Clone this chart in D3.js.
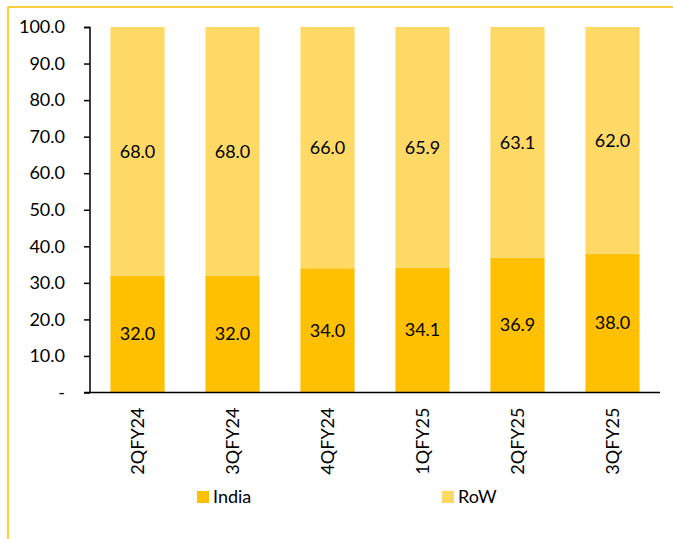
<!DOCTYPE html>
<html><head><meta charset="utf-8">
<script src="https://cdn.jsdelivr.net/npm/d3@7/dist/d3.min.js"></script>
<style>body{margin:0;background:#fff;} svg{display:block;font-family:Lato, "Open Sans", sans-serif;}</style>
</head><body>
<svg id="c" width="673" height="539"></svg>
<script>
const categories = ["2QFY24","3QFY24","4QFY24","1QFY25","2QFY25","3QFY25"];
const india = [32.0,32.0,34.0,34.1,36.9,38.0];
const row = [68.0,68.0,66.0,65.9,63.1,62.0];
const yTicks = [0,10,20,30,40,50,60,70,80,90,100];
const seriesNames = ["India","RoW"];
const colors = ["#FFC000","#FFD966"];

const svg = d3.select("#c");
// outer border
svg.append("rect").attr("x",8).attr("y",7).attr("width",700).attr("height",600)
  .attr("fill","none").attr("stroke","#FFC000").attr("stroke-width",1.5);

const x = d3.scaleBand().domain(categories).range([90,660]).paddingInner(0.43).paddingOuter(0.215);
const y = d3.scaleLinear().domain([0,100]).range([392.5,27]);

const data = categories.map((c,i)=>({cat:c, India:india[i], RoW:row[i]}));
const stack = d3.stack().keys(seriesNames)(data);

stack.forEach((s,si)=>{
  const g = svg.append("g");
  g.selectAll("rect").data(s).enter().append("rect")
    .attr("x",d=>x(d.data.cat)).attr("width",x.bandwidth())
    .attr("y",d=>y(d[1])).attr("height",d=>y(d[0])-y(d[1]))
    .attr("fill",colors[si]);
  g.selectAll("text").data(s).enter().append("text")
    .attr("x",d=>x(d.data.cat)+x.bandwidth()/2)
    .attr("y",d=>(y(d[0])+y(d[1]))/2)
    .attr("dy","0.35em").attr("text-anchor","middle")
    .attr("font-size",18).attr("fill","#000")
    .text(d=>(d[1]-d[0]).toFixed(1));
});

const yAxis = d3.axisLeft(y).tickValues(yTicks).tickSize(6).tickPadding(19)
  .tickFormat(d=>d===0?"-":d.toFixed(1));
const ya = svg.append("g").attr("transform","translate(90,0)").call(yAxis);
ya.selectAll("text").attr("font-size",18).attr("fill","#000").style("font-family","Lato, sans-serif");
ya.selectAll("line").attr("stroke","#000").attr("stroke-width",1.5);
ya.select(".domain").attr("stroke","#000").attr("stroke-width",1.5).attr("d","M-6,27.5H0V392.5");

const xAxis = d3.axisBottom(x).tickSize(0).tickPadding(0);
const xa = svg.append("g").attr("transform","translate(0,392.5)").call(xAxis);
xa.select(".domain").attr("stroke","#000").attr("stroke-width",1.5).attr("d","M84,0H660");
xa.selectAll(".tick text").attr("font-size",18).attr("fill","#000")
  .attr("transform","rotate(-90)").attr("text-anchor","end")
  .attr("x",-15).attr("y",0).attr("dy","0.35em").style("font-family","Lato, sans-serif");

// legend
const legX = [197,442];
seriesNames.forEach((n,i)=>{
  svg.append("rect").attr("x",legX[i]).attr("y",491).attr("width",12).attr("height",12).attr("fill",colors[i]);
  svg.append("text").attr("x",legX[i]+16).attr("y",497).attr("dy","0.35em")
    .attr("font-size",18).attr("fill","#000").text(n);
});
</script>
</body></html>
